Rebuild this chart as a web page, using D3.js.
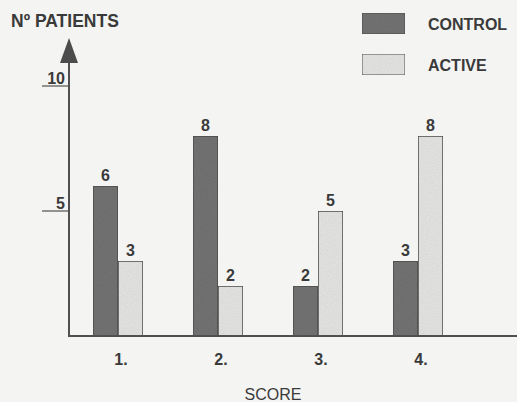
<!DOCTYPE html>
<html>
<head>
<meta charset="utf-8">
<script src="https://cdn.jsdelivr.net/npm/d3@7"></script>
<style>
  html, body { margin: 0; padding: 0; background: #f4f4f2; }
  svg { display: block; }
  text { font-family: "Liberation Sans", Arial, Helvetica, sans-serif; fill: #3a3a3a; }
</style>
</head>
<body>
<svg id="chart" width="517" height="402"></svg>
<script>
// ---- data ----
const categories = ["1.", "2.", "3.", "4."];
const seriesNames = ["CONTROL", "ACTIVE"];
const controlValues = [6, 8, 2, 3];
const activeValues = [3, 2, 5, 8];
const yTickValues = [5, 10];
const yAxisTitle = "Nº PATIENTS";
const xAxisTitle = "SCORE";

const seriesValues = { CONTROL: controlValues, ACTIVE: activeValues };

const W = 517, H = 402;
const svg = d3.select("#chart");

const axisColor = "#505050";
const fills = { CONTROL: "#757575", ACTIVE: "#e7e7e5" };

// grain filter to mimic scanned texture
const defs = svg.append("defs");
const f = defs.append("filter").attr("id", "grain").attr("x", 0).attr("y", 0).attr("width", 1).attr("height", 1);
f.append("feTurbulence").attr("type", "fractalNoise").attr("baseFrequency", 0.9).attr("numOctaves", 2).attr("seed", 3).attr("result", "noise");
f.append("feColorMatrix").attr("in", "noise").attr("type", "matrix")
  .attr("values", "0 0 0 0 0  0 0 0 0 0  0 0 0 0 0  0 0 0 0.18 0").attr("result", "alphaNoise");
f.append("feComposite").attr("in", "alphaNoise").attr("in2", "SourceGraphic").attr("operator", "in").attr("result", "clipped");
const fm = f.append("feMerge");
fm.append("feMergeNode").attr("in", "SourceGraphic");
fm.append("feMergeNode").attr("in", "clipped");

// ---- scales ----
const x0 = d3.scaleBand().domain(categories).range([68, 468]).paddingInner(0.5).paddingOuter(0.25);
const x1 = d3.scaleBand().domain(seriesNames).range([0, x0.bandwidth()]);
const y = d3.scaleLinear().domain([0, 10]).range([336, 86]);

const originX = 69;

// ---- bars ----
const groups = svg.append("g").selectAll("g")
  .data(categories).join("g")
  .attr("transform", d => `translate(${x0(d)},0)`);

const barData = (c, i) => seriesNames.map(s => ({ s, v: seriesValues[s][i] }));

groups.selectAll("rect")
  .data(barData).join("rect")
  .attr("x", d => x1(d.s))
  .attr("y", d => y(d.v))
  .attr("width", x1.bandwidth())
  .attr("height", d => y(0) - y(d.v))
  .attr("fill", d => fills[d.s])
  .attr("stroke", axisColor)
  .attr("stroke-width", 1.5)
  .attr("filter", "url(#grain)");

groups.selectAll("text.val")
  .data(barData).join("text")
  .attr("class", "val")
  .attr("x", d => x1(d.s) + x1.bandwidth() / 2)
  .attr("y", d => y(d.v) - 5)
  .attr("text-anchor", "middle")
  .attr("font-size", 16)
  .attr("font-weight", "bold")
  .text(d => d.v);

// ---- axes ----
const axes = svg.append("g").attr("stroke", axisColor).attr("stroke-width", 2).attr("fill", "none");
axes.append("line").attr("x1", originX).attr("x2", W).attr("y1", y(0)).attr("y2", y(0));
axes.append("line").attr("x1", originX).attr("x2", originX).attr("y1", y(0) + 1).attr("y2", 60);
svg.append("path")
  .attr("d", `M${originX},38 L${originX + 9},63 L${originX - 9},63 Z`)
  .attr("fill", "#4c4c4c");

// y ticks
const yt = svg.append("g").selectAll("g").data(yTickValues).join("g");
yt.append("line")
  .attr("x1", 42).attr("x2", originX)
  .attr("y1", d => y(d)).attr("y2", d => y(d))
  .attr("stroke", axisColor).attr("stroke-width", 1.2);
yt.append("text")
  .attr("x", 65)
  .attr("y", d => y(d) - 2)
  .attr("text-anchor", "end")
  .attr("font-size", 16)
  .attr("font-weight", "bold")
  .text(d => d);

// x tick labels via axis
const xAxis = d3.axisBottom(x0).tickSize(0).tickPadding(0);
const xg = svg.append("g").attr("transform", `translate(3,${y(0)})`).call(xAxis);
xg.select(".domain").remove();
xg.selectAll("text")
  .attr("dy", null)
  .attr("y", 29)
  .attr("font-size", 16)
  .attr("font-weight", "bold")
  .attr("font-family", null)
  .attr("fill", null);
xg.attr("font-family", null).attr("font-size", null);

// axis titles
svg.append("text").attr("x", 11).attr("y", 27)
  .attr("font-size", 17.5).attr("font-weight", "bold").text(yAxisTitle);
svg.append("text").attr("x", 273).attr("y", 400).attr("text-anchor", "middle")
  .attr("font-size", 16).text(xAxisTitle);

// ---- legend ----
const legend = svg.append("g").selectAll("g").data(seriesNames).join("g")
  .attr("transform", (d, i) => `translate(362,${13 + i * 41})`);
legend.append("rect")
  .attr("width", 43).attr("height", 21)
  .attr("fill", d => fills[d])
  .attr("stroke", axisColor).attr("stroke-width", 1)
  .attr("filter", "url(#grain)");
legend.append("text")
  .attr("x", 66).attr("y", 17)
  .attr("font-size", 16).attr("font-weight", "bold")
  .text(d => d);
</script>
</body>
</html>
